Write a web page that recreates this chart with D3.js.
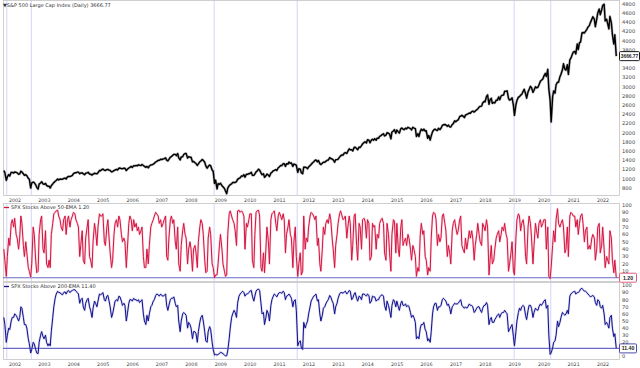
<!DOCTYPE html>
<html><head><meta charset="utf-8">
<script src="https://cdn.jsdelivr.net/npm/d3@7"></script>
<style>body{margin:0;background:#fff}svg{display:block}text{font-family:"DejaVu Sans",Verdana,sans-serif}</style>
</head><body><svg id="c" width="640" height="368"></svg>
<script>
// semi-monthly samples (mid-month, end-month) starting Aug 2001, ending 16 Jun 2022
const spx=[
1180,1134,966,1040,1090,1060,1140,1139,1125,1148,
1140,1130,1100,1106,1165,1147,1110,1076,1090,1067,1010,990,800,912,930,916,870,815,776,885,910,936,890,880,
900,856,835,841,800,848,890,917,945,964,995,975,995,990,990,1008,1015,996,1040,1050,1050,1058,1075,1112,
1130,1131,1145,1145,1110,1126,1130,1107,1090,1121,1130,1141,1105,1102,1080,1104,1120,1115,1110,1130,1180,1174,1200,1212,
1185,1181,1200,1204,1190,1181,1150,1157,1180,1191,1205,1191,1230,1234,1220,1220,1230,1229,1180,1207,1235,1249,1270,1248,
1285,1280,1290,1281,1305,1295,1290,1311,1290,1270,1250,1270,1240,1277,1300,1304,1320,1336,1365,1378,1400,1401,1425,1418,
1430,1438,1455,1407,1390,1421,1470,1482,1510,1531,1530,1503,1550,1455,1410,1474,1480,1527,1550,1549,1450,1481,1470,1468,
1370,1379,1350,1331,1290,1323,1370,1386,1420,1400,1360,1280,1230,1267,1300,1283,1190,1166,900,969,780,896,880,903,
850,826,790,735,677,798,850,873,890,919,920,919,940,987,1010,1021,1060,1057,1090,1036,1100,1096,1110,1115,
1140,1074,1075,1104,1150,1169,1210,1187,1130,1089,1110,1031,1065,1102,1080,1049,1125,1141,1175,1183,1200,1181,1240,1258,
1290,1286,1330,1327,1270,1326,1320,1364,1335,1345,1270,1321,1310,1292,1140,1219,1210,1131,1110,1253,1250,1247,1220,1258,
1290,1312,1350,1366,1400,1408,1370,1398,1330,1310,1340,1362,1360,1379,1405,1406,1460,1441,1430,1412,1360,1416,1420,1426,
1470,1498,1520,1515,1560,1569,1550,1598,1650,1631,1630,1606,1680,1686,1660,1633,1690,1682,1720,1757,1790,1806,1780,1848,
1840,1783,1840,1859,1840,1872,1840,1884,1880,1924,1940,1960,1980,1931,1950,2003,1990,1972,1870,2018,2040,2068,1990,2059,
2020,1995,2090,2104,2080,2068,2100,2086,2120,2107,2090,2063,2120,2104,2090,1920,1980,1920,2030,2079,2050,2080,2040,2044,
1880,1940,1840,1932,2020,2060,2080,2065,2050,2097,2070,2099,2160,2174,2180,2171,2140,2168,2130,2126,2180,2199,2260,2239,
2270,2279,2350,2364,2380,2363,2330,2384,2400,2412,2430,2423,2460,2470,2450,2472,2500,2519,2560,2575,2580,2648,2680,2674,
2790,2824,2620,2714,2750,2641,2660,2648,2710,2705,2780,2718,2800,2816,2820,2902,2900,2914,2750,2711,2730,2760,2600,2380,
2610,2704,2775,2784,2820,2834,2900,2946,2850,2752,2890,2942,3010,2980,2880,2926,3000,2977,2990,3038,3120,3141,3170,3231,
3290,3226,3380,2954,2711,2237,2780,2912,2860,3044,3100,3100,3220,3271,3370,3500,3380,3363,3480,3270,3585,3622,3700,3756,
3770,3714,3930,3811,3960,3973,4170,4181,4170,4204,4250,4297,4330,4395,4470,4523,4470,4307,4470,4605,4690,4567,4670,4766,
4796,4432,4470,4374,4260,4530,4390,4132,3930,4132,3666.77];
const above50=[
40,25,3,30,55,45,75,80,70,82,
60,55,40,55,85,75,45,30,50,35,15,10,2,20,70,60,25,8,10,60,80,85,40,35,
65,20,15,25,15,60,75,88,90,92,93,85,80,70,65,80,85,60,80,85,70,80,85,90,
88,80,75,70,30,45,65,25,20,55,70,80,30,25,15,50,75,65,45,70,88,85,85,88,
50,45,70,80,55,35,15,25,60,75,80,70,85,80,60,50,55,50,15,40,75,85,80,65,
80,70,75,65,70,60,65,70,30,15,15,40,20,45,70,75,80,85,90,88,85,75,80,70,
75,80,85,30,25,55,80,85,75,80,50,40,70,20,10,45,65,75,60,55,20,40,50,40,
10,40,45,35,15,50,70,80,75,60,25,8,10,55,70,60,20,15,1,5,5,20,45,60,
40,20,10,3,5,60,88,92,85,80,75,65,45,92,93,90,92,90,85,40,75,70,80,88,
88,25,15,60,90,92,93,85,15,10,35,8,40,70,50,20,80,88,90,92,75,65,85,90,
85,80,88,80,35,60,70,80,60,55,15,50,70,30,3,20,35,5,10,85,40,55,50,70,
85,90,88,85,80,85,45,55,20,10,40,70,60,75,80,75,88,80,55,40,15,45,60,75,
88,92,85,80,82,85,55,70,85,75,25,45,85,88,45,25,75,70,40,80,82,78,55,80,
75,25,30,75,70,72,40,60,55,75,80,82,75,35,25,75,60,35,10,60,80,78,35,75,
40,30,70,80,45,50,55,45,60,55,40,25,45,40,30,3,15,10,60,75,60,65,30,25,
5,15,10,55,85,90,88,80,45,60,50,55,85,88,75,65,30,45,35,20,65,75,80,70,
60,65,80,85,45,40,35,55,40,50,65,55,65,55,25,45,60,75,60,50,45,75,70,65,
80,70,5,25,45,20,25,40,55,60,65,50,60,70,65,75,60,55,10,20,35,50,10,5,
55,80,88,85,65,75,80,70,30,20,70,85,75,55,20,45,75,65,55,75,80,70,75,80,
80,40,70,3,0,15,45,65,50,80,95,75,70,75,80,70,35,40,70,30,85,90,88,85,
85,70,80,60,75,85,88,75,50,65,70,40,45,40,55,60,55,25,40,70,75,35,45,70,
40,15,30,25,20,65,55,25,8,25,1.2];
const above200=[
55,45,20,30,40,38,50,55,55,60,
58,55,50,55,70,68,55,45,45,40,25,18,5,10,20,18,10,5,4,20,30,35,28,25,
30,20,15,18,15,35,55,70,82,88,92,90,90,88,87,90,91,88,92,93,90,92,93,94,
94,92,90,88,75,80,82,70,65,75,80,82,70,65,55,68,78,75,70,78,88,87,88,90,
80,78,85,86,78,70,55,60,70,78,80,78,85,84,78,72,75,72,50,60,75,80,80,78,
82,80,80,78,80,76,78,80,60,50,45,58,50,60,70,72,78,80,86,88,87,85,88,86,
85,86,88,72,65,72,80,82,82,84,75,70,72,50,35,50,60,62,60,58,40,48,45,40,
25,35,35,32,20,35,48,55,58,50,35,22,20,35,42,38,20,10,2,3,2,3,4,6,
5,4,2,1,1,8,25,40,55,60,65,62,55,75,85,88,90,92,90,85,88,88,90,92,
93,85,78,85,92,94,95,93,75,60,62,45,55,65,60,50,72,80,85,88,86,84,88,90,
90,89,92,90,80,85,86,88,85,82,70,78,80,65,15,20,22,12,10,48,40,45,50,60,
70,78,82,85,86,88,78,80,60,50,58,68,70,74,78,80,86,84,78,75,60,70,75,82,
88,90,90,89,91,92,88,90,93,92,80,82,88,90,82,78,85,84,80,88,88,87,85,88,
86,75,78,85,84,84,78,80,80,84,86,87,85,72,65,78,72,65,55,72,80,78,70,78,
70,65,75,78,72,72,74,70,72,70,62,55,58,55,48,25,28,25,40,45,45,48,38,35,
22,25,20,35,60,70,75,75,65,70,70,72,80,82,80,78,72,74,68,60,70,72,75,74,
74,75,78,80,72,70,68,70,68,70,74,72,72,70,62,64,68,70,70,66,62,68,72,72,
76,72,45,52,55,48,48,52,55,58,60,55,60,62,62,65,62,60,35,38,42,45,28,15,
35,50,62,68,65,70,72,70,58,52,65,72,72,68,55,62,68,66,65,70,74,72,75,78,
80,68,72,30,3,5,12,20,22,30,50,42,48,55,62,60,58,60,65,60,85,88,90,91,
92,88,90,90,92,95,96,94,92,92,90,88,86,84,85,86,84,76,72,80,78,70,68,72,
60,45,48,45,40,55,58,40,28,32,11.4];
const yearTicks=d3.range(2002,2023);
const priceTicks=d3.range(800,4801,200);
const pctTicks=d3.range(0,101,10);
const eventDates=["2001-09-21","2002-07-23","2008-10-10","2011-08-08","2018-12-24","2020-03-23"];
const titles=["S&P 500 Large Cap Index (Daily) 3666.77","SPX Stocks Above 50-EMA 1.20","SPX Stocks Above 200-EMA 11.40"];
const lastLabels=["3666.77","1.20","11.40"];

const dates=spx.map((_,i)=>new Date(2001,7+Math.floor(i/2),i%2?28:15));
const svg=d3.select("#c");
const L=3,R=619;
const x=d3.scaleTime().domain([new Date(2002,0,1),new Date(2022,0,1)]).range([15,603]);
const panels=[
 {top:0,bot:195,y:d3.scaleLinear().domain([800,4800]).range([188,4]),data:spx,color:"#000",halo:"#777",w:1.4,ticks:priceTicks,hline:false,box:"#000",bw:20},
 {top:203,bot:281,y:d3.scaleLinear().domain([0,100]).range([278.6,205]),data:above50,color:"#d6123f",halo:"#f2a9bb",w:1,ticks:pctTicks.slice(1),hline:true,box:"#e04a6a",bw:17},
 {top:282,bot:359,y:d3.scaleLinear().domain([0,100]).range([356.5,285.5]),data:above200,color:"#10108f",halo:"#a9a9dd",w:1,ticks:pctTicks,hline:true,box:"#3a3aa0",bw:17}
];
panels.forEach((p,k)=>{
 const g=svg.append("g");
 const cid="clip"+k;
 svg.append("clipPath").attr("id",cid).append("rect").attr("x",L).attr("y",p.top).attr("width",R-L).attr("height",p.bot-p.top);
 g.selectAll("line.ev").data(eventDates).join("line").attr("class","ev")
  .attr("x1",d=>x(new Date(d))).attr("x2",d=>x(new Date(d))).attr("y1",p.top).attr("y2",p.bot)
  .attr("stroke","#d4d4fb").attr("stroke-width",1);
 g.append("rect").attr("x",L+0.5).attr("y",p.top+0.5).attr("width",R-L).attr("height",p.bot-p.top)
  .attr("fill","none").attr("stroke","#c4c4c4").attr("stroke-width",0.8);
 const last=p.data[p.data.length-1];
 if(p.hline){
  g.append("line").attr("x1",L).attr("x2",R).attr("y1",p.y(last)).attr("y2",p.y(last))
   .attr("stroke","#6a6ac6").attr("stroke-width",1.1);
 }
 const line=d3.line().x((d,i)=>x(dates[i])).y(d=>p.y(d));
 g.append("path").datum(p.data).attr("d",line).attr("fill","none").attr("stroke",p.halo)
  .attr("stroke-width",p.w+1.2).attr("stroke-opacity",0.5).attr("stroke-linejoin","round").attr("clip-path",`url(#${cid})`);
 g.append("path").datum(p.data).attr("d",line).attr("fill","none").attr("stroke",p.color)
  .attr("stroke-width",p.w).attr("stroke-linejoin","round").attr("clip-path",`url(#${cid})`);
 const ly=p.y(last);
 g.selectAll("text.yt").data(p.ticks.filter(t=>Math.abs(p.y(t)-ly)>6)).join("text")
  .attr("x",622).attr("y",t=>p.y(t)).attr("dy","0.35em").attr("font-size",5.2).attr("fill","#444").text(t=>t);
 g.append("rect").attr("x",619.5).attr("y",ly-4.5).attr("width",p.bw).attr("height",9).attr("rx",1)
  .attr("fill","#fff").attr("stroke",p.box).attr("stroke-width",0.9);
 g.append("text").attr("x",619.5+p.bw/2).attr("y",ly).attr("dy","0.35em").attr("text-anchor","middle")
  .style("font-family","'Liberation Sans',Arial,sans-serif")
  .attr("font-size",k==0?4.8:5.2).attr("font-weight","bold").attr("fill","#222").text(lastLabels[k]);
 const tg=g.append("g");
 if(k==0){
  tg.append("text").attr("x",3).attr("y",p.top+5).attr("dy","0.35em").attr("font-size",5).attr("fill","#333").text("▼"+titles[k]);
 } else {
  tg.append("line").attr("x1",4).attr("x2",9).attr("y1",p.top+4.5).attr("y2",p.top+4.5).attr("stroke",p.color).attr("stroke-width",1.3);
  tg.append("text").attr("x",11).attr("y",p.top+4.5).attr("dy","0.35em").attr("font-size",5).attr("fill","#333").text(titles[k]);
 }
});
[200,364].forEach(yy=>{
 svg.append("g").selectAll("text").data(yearTicks).join("text")
  .attr("x",d=>x(new Date(d,0,1))).attr("y",yy).attr("dy","0.35em").attr("text-anchor","middle")
  .attr("font-size",4.8).attr("fill","#444").text(d=>d);
});
</script></body></html>
